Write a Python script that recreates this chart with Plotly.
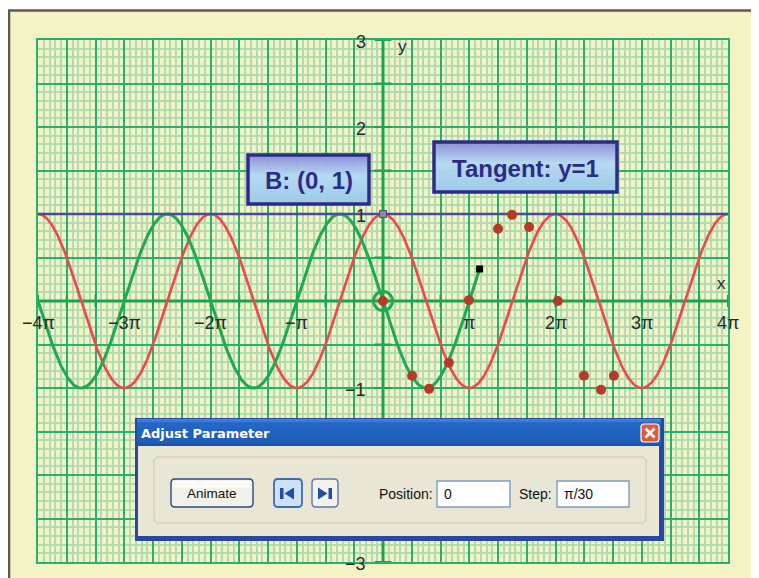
import numpy as np
import plotly.graph_objects as go

PI = np.pi

# ---------------- data ----------------
x_tick_mult = [-4, -3, -2, -1, 1, 2, 3, 4]
x_tick_labels = ["\u22124\u03c0", "\u22123\u03c0", "\u22122\u03c0", "\u2212\u03c0", "\u03c0", "2\u03c0", "3\u03c0", "4\u03c0"]
y_tick_vals = [3, 2, 1, -1, -3]
y_tick_labels = ["3", "2", "1", "\u22121", "\u22123"]

red_start, red_end = -4 * PI, 4 * PI           # y = cos x
green_start, green_end = -4 * PI, 1.12 * PI     # y = -sin x (traced part)
tangent_y = 1
point_B = (0, 1)

dot_x = [0.00, 1.06, 1.68, 2.40, 3.13, 4.19, 4.70, 5.32, 6.37, 7.32, 7.94, 8.41]
dot_y = [0.00, -0.86, -1.01, -0.71, 0.01, 0.83, 0.99, 0.85, 0.00, -0.86, -1.02, -0.86]

# ---------------- styles ----------------
BEIGE = "#f3f3c4"
MAJ = "#22b272"
MIN = "#b3dbb3"
AXC = "#16a650"
RED = "#f0484a"
GRN = "#20a94e"
BLUE = "#4848a6"
DOT = "#b63a26"
NAVY = "#2c2c86"

# page body has an 8px margin: figure is placed at screen (8, 8)
OFF = 8
SW, SH = 759, 578
W, H = SW - OFF, SH - OFF
PL, PR, PT, PB = 38, 728, 40, 562            # plot area in screen pixels
L, R, T, B = PL - OFF, SW - PR, PT - OFF, SH - PB
PW, PH = PR - PL, PB - PT


def X(p):
    return (p - PL) / PW


def Y(p):
    return (PB - p) / PH


def hexrgb(h):
    h = h.lstrip("#")
    return [int(h[i:i + 2], 16) for i in (0, 2, 4)]


def interp(stops, t):
    for (t0, c0), (t1, c1) in zip(stops[:-1], stops[1:]):
        if t0 <= t <= t1:
            f = 0 if t1 == t0 else (t - t0) / (t1 - t0)
            a, b = hexrgb(c0), hexrgb(c1)
            return "rgb(%d,%d,%d)" % tuple(round(a[i] + (b[i] - a[i]) * f) for i in range(3))
    return stops[-1][1]


shapes = []
annots = []


def rect(x0, y0, x1, y1, fill=None, line=None, lw=1, layer="above"):
    shapes.append(dict(type="rect", xref="paper", yref="paper", x0=X(x0), x1=X(x1), y0=Y(y0), y1=Y(y1),
                       fillcolor=fill if fill else "rgba(0,0,0,0)",
                       line=dict(color=line if line else "rgba(0,0,0,0)", width=lw if line else 0),
                       layer=layer))


def vgrad(x0, y0, x1, y1, stops, n=24):
    h = (y1 - y0) / n
    for i in range(n):
        t = (i + 0.5) / n
        shapes.append(dict(type="rect", xref="paper", yref="paper", x0=X(x0), x1=X(x1),
                           y0=Y(y0 + i * h), y1=Y(y0 + (i + 1) * h + 0.6),
                           fillcolor=interp(stops, t), line=dict(width=0), layer="above"))


def rrect(x0, y0, x1, y1, r, fill=None, line=None, lw=1):
    p = (f"M {X(x0 + r)},{Y(y0)} L {X(x1 - r)},{Y(y0)} Q {X(x1)},{Y(y0)} {X(x1)},{Y(y0 + r)} "
         f"L {X(x1)},{Y(y1 - r)} Q {X(x1)},{Y(y1)} {X(x1 - r)},{Y(y1)} "
         f"L {X(x0 + r)},{Y(y1)} Q {X(x0)},{Y(y1)} {X(x0)},{Y(y1 - r)} "
         f"L {X(x0)},{Y(y0 + r)} Q {X(x0)},{Y(y0)} {X(x0 + r)},{Y(y0)} Z")
    shapes.append(dict(type="path", xref="paper", yref="paper", path=p,
                       fillcolor=fill if fill else "rgba(0,0,0,0)",
                       line=dict(color=line if line else "rgba(0,0,0,0)", width=lw if line else 0),
                       layer="above"))


def poly(pts, fill):
    p = "M " + " L ".join(f"{X(a)},{Y(b)}" for a, b in pts) + " Z"
    shapes.append(dict(type="path", xref="paper", yref="paper", path=p, fillcolor=fill,
                       line=dict(width=0), layer="above"))


def text(xc, yc, s, size, color, family="Liberation Sans", xanchor="center"):
    annots.append(dict(xref="paper", yref="paper", x=X(xc), y=Y(yc), text=s, showarrow=False,
                       xanchor=xanchor, yanchor="middle", font=dict(size=size, color=color, family=family)))


# outer frame
rect(9, 10.5, 820, 640, fill=BEIGE, line="#5b5b55", lw=2.5, layer="below")

# label boxes
box_stops = [(0, "#8c8cd6"), (0.42, "#b6daf1"), (1, "#9ccae8")]
for (bx0, by0, bx1, by1, s) in [(248, 155, 369, 204, "<b>B: (0, 1)</b>"),
                                (434, 142, 617, 192, "<b>Tangent: y=1</b>")]:
    vgrad(bx0, by0, bx1, by1, box_stops)
    rect(bx0, by0, bx1, by1, line=NAVY, lw=3.5)
    text((bx0 + bx1) / 2, (by0 + by1) / 2 + 1, s, 24, NAVY)

# dialog
rect(135, 418, 664, 541, fill="#2846a6")
vgrad(137, 419, 661, 446, [(0, "#4a8ee0"), (0.15, "#2468c6"), (0.85, "#1f5eb8"), (1, "#1a50a6")], n=16)
rect(138, 446, 659, 536, fill="#e9e6d5")
text(138.5, 433, "<b>Adjust Parameter</b>", 13, "white", family="DejaVu Sans", xanchor="left")
# close button
rrect(641, 424, 659, 442, 3, fill="#e05a3c", line="white", lw=1.2)
shapes.append(dict(type="line", xref="paper", yref="paper", x0=X(645.5), y0=Y(428.5), x1=X(654.5), y1=Y(437.5),
                   line=dict(color="white", width=2.6), layer="above"))
shapes.append(dict(type="line", xref="paper", yref="paper", x0=X(645.5), y0=Y(437.5), x1=X(654.5), y1=Y(428.5),
                   line=dict(color="white", width=2.6), layer="above"))
# group box
rrect(154, 457, 646, 523, 5, line="#d2cfbd", lw=1.5)
# Animate button
rrect(171, 479, 253, 507, 4, fill="#f2f1ea", line="#2b4a80", lw=1.4)
rect(173, 481, 251, 488, fill="#fbfbf8")
text(212, 493.5, "Animate", 13.5, "#111111")
# step back button
rrect(274, 479, 302, 507, 4, fill="#cfe0f5", line="#3a6cb4", lw=1.8)
rect(280, 488, 283.5, 499, fill="#1f4fa0")
poly([(284.5, 493.5), (294, 487.5), (294, 499.5)], "#1f4fa0")
# step forward button
rrect(312, 479, 338, 507, 4, fill="#f3f2ec", line="#5a7aa8", lw=1.4)
poly([(318, 487.5), (327.5, 493.5), (318, 499.5)], "#1f4fa0")
rect(328.5, 488, 332, 499, fill="#1f4fa0")
# position / step
text(406, 494, "Position:", 14, "#111111")
rect(437, 481, 510, 507, fill="white", line="#7f9db9", lw=1.4)
text(442, 494, "0", 14, "#111111", xanchor="left")
text(535, 494, "Step:", 14, "#111111")
rect(557, 481, 629, 507, fill="white", line="#7f9db9", lw=1.4)
text(562, 494, "\u03c0/30", 14, "#111111", xanchor="left")

# ---------------- traces ----------------
fig = go.Figure()

xs_r = np.linspace(red_start, red_end, 1200)
xs_g = np.linspace(green_start, green_end, 900)

# axes
fig.add_trace(go.Scatter(x=[-4 * PI, 4 * PI], y=[0, 0], mode="lines", line=dict(color=AXC, width=3), hoverinfo="skip"))
fig.add_trace(go.Scatter(x=[0, 0], y=[-3, 3], mode="lines", line=dict(color=AXC, width=3), hoverinfo="skip"))
xt = [k * PI / 3 for k in range(-12, 13) if k != 0]
fig.add_trace(go.Scatter(x=xt, y=[0] * len(xt), mode="markers",
                         marker=dict(symbol="line-ns", size=9, line=dict(color=AXC, width=2)), hoverinfo="skip"))
yt = [k * 0.5 for k in range(-6, 7) if k != 0]
fig.add_trace(go.Scatter(x=[0] * len(yt), y=yt, mode="markers",
                         marker=dict(symbol="line-ew", size=12, line=dict(color=AXC, width=2)), hoverinfo="skip",
                         cliponaxis=False))
fig.add_trace(go.Scatter(x=[12.72], y=[0], mode="markers", cliponaxis=False,
                         marker=dict(symbol="triangle-right", size=13, color=AXC), hoverinfo="skip"))
fig.add_trace(go.Scatter(x=[0], y=[3.058], mode="markers", cliponaxis=False,
                         marker=dict(symbol="triangle-up", size=14, color=AXC), hoverinfo="skip"))

# curves
fig.add_trace(go.Scatter(x=xs_r, y=np.cos(xs_r), mode="lines", line=dict(color=RED, width=2.6), hoverinfo="skip"))
fig.add_trace(go.Scatter(x=xs_g, y=-np.sin(xs_g), mode="lines", line=dict(color=GRN, width=3), hoverinfo="skip"))
fig.add_trace(go.Scatter(x=[-4 * PI, 4 * PI], y=[tangent_y, tangent_y], mode="lines",
                         line=dict(color=BLUE, width=2.6), hoverinfo="skip"))

# points
fig.add_trace(go.Scatter(x=dot_x, y=dot_y, mode="markers", marker=dict(size=10, color=DOT), hoverinfo="skip"))
fig.add_trace(go.Scatter(x=[0], y=[0], mode="markers",
                         marker=dict(symbol="circle-open", size=19, color=GRN, line=dict(color=GRN, width=3)),
                         hoverinfo="skip"))
fig.add_trace(go.Scatter(x=[green_end], y=[-np.sin(green_end)], mode="markers",
                         marker=dict(symbol="square", size=7, color="black"), hoverinfo="skip"))
fig.add_trace(go.Scatter(x=[point_B[0]], y=[point_B[1]], mode="markers",
                         marker=dict(symbol="square", size=7, color="#8a8aa6", line=dict(color="#50507a", width=1)),
                         hoverinfo="skip"))

# tick labels
for m, s in zip(x_tick_mult, x_tick_labels):
    annots.append(dict(xref="x", yref="y", x=m * PI, y=0, yshift=-22, text=s, showarrow=False,
                       xanchor="center", yanchor="middle", font=dict(size=18, color="#2a2a2a", family="Liberation Sans")))
for v, s in zip(y_tick_vals, y_tick_labels):
    annots.append(dict(xref="x", yref="y", x=0, y=v, xshift=-15, yshift=-2, text=s, showarrow=False,
                       xanchor="right", yanchor="middle", font=dict(size=18, color="#2a2a2a", family="Liberation Sans")))
annots.append(dict(xref="x", yref="y", x=0, y=3, xshift=19, yshift=-6, text="y", showarrow=False,
                   xanchor="center", yanchor="middle", font=dict(size=17, color="#2a2a2a", family="Liberation Sans")))
annots.append(dict(xref="x", yref="y", x=4 * PI, y=0, xshift=-7, yshift=18, text="x", showarrow=False,
                   xanchor="center", yanchor="middle", font=dict(size=17, color="#2a2a2a", family="Liberation Sans")))

fig.update_layout(
    width=W, height=H, autosize=False,
    margin=dict(l=L, r=R, t=T, b=B, pad=0),
    paper_bgcolor="white", plot_bgcolor=BEIGE,
    showlegend=False,
    shapes=shapes, annotations=annots,
    xaxis=dict(range=[-4 * PI, 4 * PI], tick0=0, dtick=PI / 3, showgrid=True, gridcolor=MAJ, gridwidth=2,
               minor=dict(tick0=0, dtick=PI / 15, showgrid=True, gridcolor=MIN, gridwidth=2),
               showticklabels=False, ticks="", zeroline=False, showline=True, mirror=True,
               linecolor=MAJ, linewidth=2, fixedrange=True),
    yaxis=dict(range=[-3, 3], tick0=0, dtick=0.5, showgrid=True, gridcolor=MAJ, gridwidth=2,
               minor=dict(tick0=0, dtick=0.1, showgrid=True, gridcolor=MIN, gridwidth=2),
               showticklabels=False, ticks="", zeroline=False, showline=True, mirror=True,
               linecolor=MAJ, linewidth=2, fixedrange=True),
)

fig.write_html("out.html")
